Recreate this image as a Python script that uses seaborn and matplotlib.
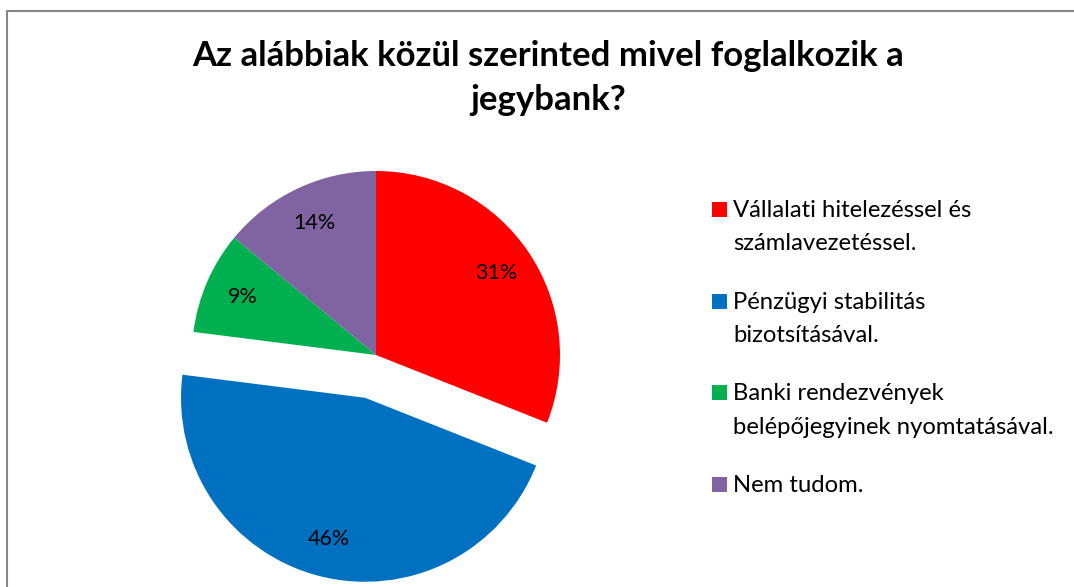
import numpy as np
import matplotlib
matplotlib.use('Agg')
from matplotlib import pyplot as plt
from matplotlib.patches import Rectangle
import seaborn as sns

# data
categories = ['Vállalati hitelezéssel és\nszámlavezetéssel.',
              'Pénzügyi stabilitás\nbizotsításával.',
              'Banki rendezvények\nbelépőjegyinek nyomtatásával.',
              'Nem tudom.']
shares = [31, 46, 9, 14]
explode = [0, 0.24, 0, 0]
colors = ['#FF0000', '#0070C0', '#00B050', '#8064A2']
title = 'Az alábbiak közül szerinted mivel foglalkozik a\njegybank?'

sns.set_style('white')
plt.rcParams['font.family'] = ['Lato', 'DejaVu Sans']

W, H = 1074, 587
fig = plt.figure(figsize=(W / 100, H / 100), dpi=100)

# pie axes: 1 data unit = 184 px, centre at (376, 355) px from top-left
r = 184
half = 1.3
cx, cy = 376, H - 355
ax = fig.add_axes([(cx - half * r) / W, (cy - half * r) / H, 2 * half * r / W, 2 * half * r / H])
wedges, texts, autotexts = ax.pie(shares, explode=explode, colors=colors, startangle=90,
                                  counterclock=False, autopct='%1.0f%%', pctdistance=0.79,
                                  wedgeprops=dict(linewidth=0),
                                  textprops=dict(fontsize=15.5, color='black'))
ax.set_xlim(-half, half)
ax.set_ylim(-half, half)
ax.set_aspect('equal')
ax.axis('off')

# title
fig.text(548 / W, 1 - 40 / H, title, ha='center', va='top', fontsize=25,
         fontweight='bold', linespacing=1.45, color='black')

# legend, squares aligned with first line of each entry
x_sq, x_txt, top0, step = 712, 733, 202, 91.7
for i, (lab, c) in enumerate(zip(categories, colors)):
    top = top0 + i * step
    fig.patches.append(Rectangle((x_sq / W, 1 - (top + 15) / H), 15 / W, 15 / H,
                                 transform=fig.transFigure, facecolor=c, edgecolor='none'))
    fig.text(x_txt / W, 1 - (top - 2) / H, lab, ha='left', va='top', fontsize=17.2,
             linespacing=1.72, color='black')

# chart-area frame (only left and top edges visible)
fig.patches.append(Rectangle((7 / W, -0.1), 1.2, (H - 11) / H + 0.1, transform=fig.transFigure,
                             fill=False, edgecolor='#868686', linewidth=1.5))

fig.savefig('out.png', dpi=100)
